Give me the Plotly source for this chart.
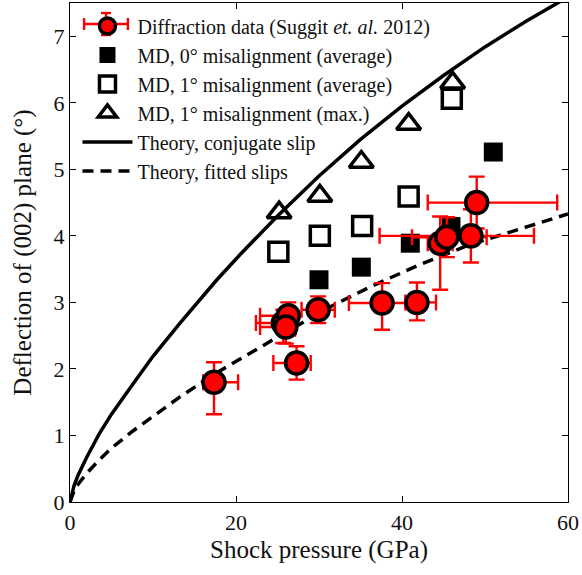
import plotly.graph_objects as go

# Diffraction data (Suggit et al. 2012)
exp_p = [17.35, 25.7, 26.3, 26.0, 27.3, 29.9, 37.6, 41.8, 44.6, 45.4, 48.3, 49.0]
exp_d = [1.80, 2.69, 2.80, 2.63, 2.09, 2.89, 2.99, 3.00, 3.89, 3.98, 4.00, 4.50]
exp_p_plus = [2.9, 1.5, 1.0, 1.2, 1.7, 2.0, 3.2, 2.3, 1.5, 4.8, 7.6, 9.7]
exp_p_minus = [1.3, 3.3, 3.4, 3.1, 2.8, 2.0, 4.0, 1.4, 1.5, 4.2, 11.0, 5.9]
exp_d_plus = [0.30, 0.20, 0.20, 0.20, 0.25, 0.20, 0.30, 0.30, 0.40, 0.30, 0.40, 0.39]
exp_d_minus = [0.48, 0.30, 0.30, 0.25, 0.25, 0.20, 0.40, 0.27, 0.70, 0.30, 0.40, 0.39]

# MD simulations
md0_avg_p = [30.0, 35.1, 41.0, 45.9, 51.0]
md0_avg = [3.34, 3.53, 3.89, 4.14, 5.26]
md1_avg_p = [25.1, 30.1, 35.2, 40.8, 46.0]
md1_avg = [3.76, 4.00, 4.15, 4.59, 6.06]
md1_max_p = [25.2, 30.1, 35.1, 40.8, 46.1]
md1_max = [4.35, 4.60, 5.11, 5.68, 6.30]

# Theory curves
th_conj_p = [0, 0.5, 1, 2, 3.5, 5, 7.5, 10, 13.25, 17.7, 20.5, 25, 30, 35, 40, 45, 50, 55, 60]
th_conj_d = [0, 0.25, 0.41, 0.67, 1.02, 1.32, 1.76, 2.19, 2.69, 3.34, 3.72, 4.30, 4.90, 5.45, 5.95, 6.41, 6.84, 7.23, 7.59]
th_fit_p = [0, 0.5, 1, 2, 3.5, 5, 7.5, 10, 13.25, 17.5, 21.7, 25.3, 31.3, 36.1, 42, 48, 55.4, 60]
th_fit_d = [0, 0.17, 0.27, 0.43, 0.63, 0.81, 1.06, 1.29, 1.58, 1.93, 2.24, 2.50, 2.93, 3.23, 3.56, 3.86, 4.15, 4.33]

FONT = "Liberation Serif"
TXT = "#111"

fig = go.Figure()

fig.add_trace(go.Scatter(
    x=th_conj_p, y=th_conj_d, mode="lines", name="Theory, conjugate slip",
    line=dict(color="black", width=3.5), legendrank=5))
fig.add_trace(go.Scatter(
    x=th_fit_p, y=th_fit_d, mode="lines", name="Theory, fitted slips",
    line=dict(color="black", width=3.5, dash="11px,7px"), legendrank=6))

fig.add_trace(go.Scatter(
    x=md0_avg_p, y=md0_avg, mode="markers", name="MD, 0° misalignment (average)",
    marker=dict(symbol="square", size=19, color="black", line=dict(width=0)), legendrank=2))
fig.add_trace(go.Scatter(
    x=md1_avg_p, y=md1_avg, mode="markers", name="MD, 1° misalignment (average)",
    marker=dict(symbol="square-open", size=19, color="black", line=dict(width=3.5)), legendrank=3))
fig.add_trace(go.Scatter(
    x=md1_max_p, y=md1_max, mode="markers", name="MD, 1° misalignment (max.)",
    marker=dict(symbol="triangle-up-open", size=21, color="black", line=dict(width=3.5)), legendrank=4))

fig.add_trace(go.Scatter(
    x=exp_p, y=exp_d, mode="markers", name="Diffraction data (Suggit <i>et. al.</i> 2012)",
    marker=dict(symbol="circle", size=22, color="red", line=dict(color="black", width=3.5)),
    error_x=dict(type="data", array=exp_p_plus, arrayminus=exp_p_minus, symmetric=False,
                 color="red", thickness=2.4, width=8),
    error_y=dict(type="data", array=exp_d_plus, arrayminus=exp_d_minus, symmetric=False,
                 color="red", thickness=2.4, width=8),
    legendrank=1))

axis_common = dict(
    showline=True, linecolor="black", linewidth=1.2, mirror="ticks",
    ticks="inside", ticklen=6, tickcolor="black", tickwidth=1.2,
    showgrid=False, zeroline=False,
    tickfont=dict(family=FONT, size=22, color=TXT),
)

fig.update_xaxes(range=[0, 60], tickvals=[0, 20, 40, 60], **axis_common,
                 title=dict(text="Shock pressure (GPa)", font=dict(family=FONT, size=25, color=TXT),
                            standoff=6))
fig.update_yaxes(range=[0, 7.5], tickvals=[0, 1, 2, 3, 4, 5, 6, 7], **axis_common,
                 title=dict(text="Deflection of (002) plane (°)", font=dict(family=FONT, size=25, color=TXT),
                            standoff=14))

# error-bar icon behind the first legend symbol (legend decoration)
icon = dict(color="red", width=2.4)
cx, cy = 0.0723, 0.9579   # paper coords of the legend circle
hw, hh = 0.044, 0.022     # half-length of horizontal / vertical bars
cap_h, cap_w = 0.012, 0.010
shapes = [
    dict(type="line", xref="paper", yref="paper", x0=cx - hw, x1=cx + hw, y0=cy, y1=cy, line=icon),
    dict(type="line", xref="paper", yref="paper", x0=cx - hw, x1=cx - hw, y0=cy - cap_h, y1=cy + cap_h, line=icon),
    dict(type="line", xref="paper", yref="paper", x0=cx + hw, x1=cx + hw, y0=cy - cap_h, y1=cy + cap_h, line=icon),
    dict(type="line", xref="paper", yref="paper", x0=cx, x1=cx, y0=cy - hh, y1=cy + hh, line=icon),
    dict(type="line", xref="paper", yref="paper", x0=cx - cap_w, x1=cx + cap_w, y0=cy - hh, y1=cy - hh, line=icon),
    dict(type="line", xref="paper", yref="paper", x0=cx - cap_w, x1=cx + cap_w, y0=cy + hh, y1=cy + hh, line=icon),
]

fig.update_layout(
    width=582, height=575,
    margin=dict(l=70, r=14, t=3, b=73),
    plot_bgcolor="white", paper_bgcolor="white",
    showlegend=True,
    shapes=shapes,
    legend=dict(x=0.015, y=0.993, xanchor="left", yanchor="top",
                bgcolor="rgba(255,255,255,0)", borderwidth=0,
                font=dict(family=FONT, size=20, color=TXT),
                tracegroupgap=0, itemwidth=50),
)

fig.write_html("out.html")
